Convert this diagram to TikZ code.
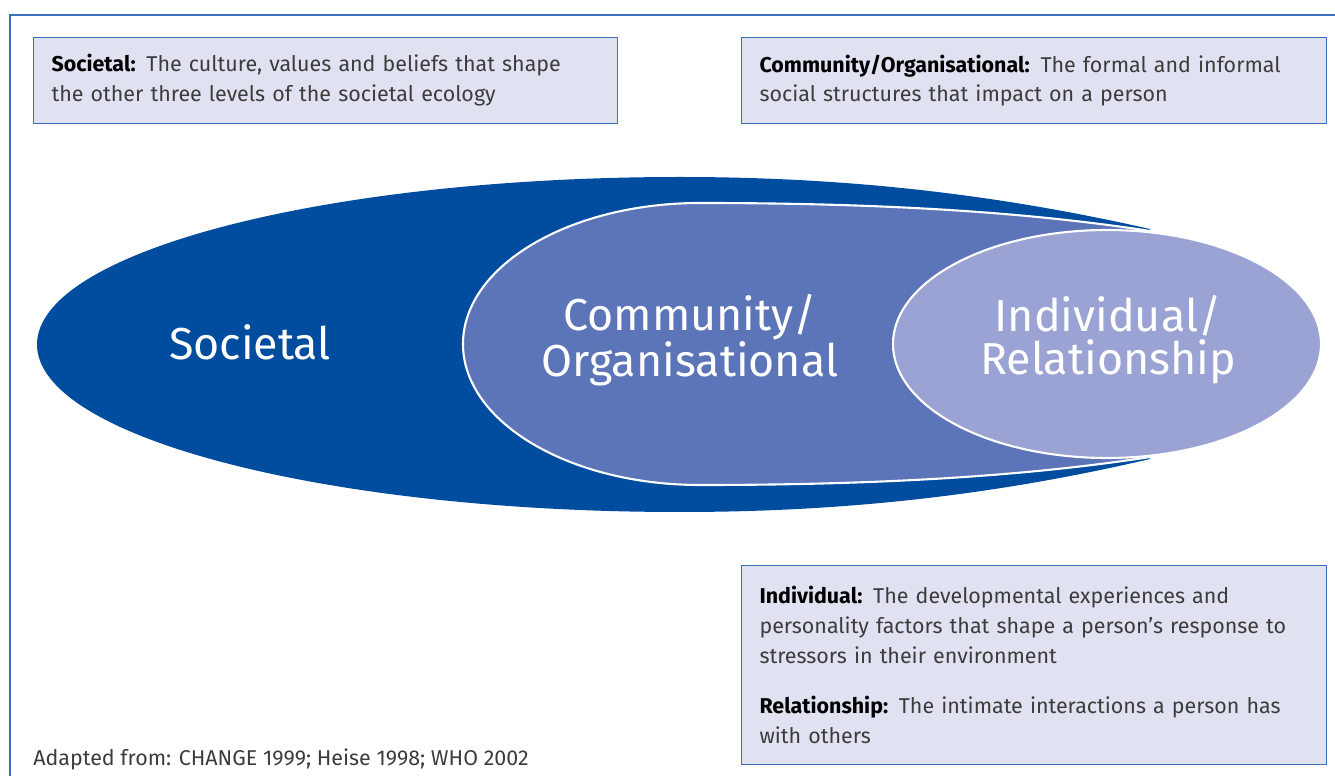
\documentclass[tikz,border=0pt]{standalone}
\usepackage{fontspec}
\setmainfont{Fira Sans}
\definecolor{societal}{RGB}{0,76,159}
\definecolor{community}{RGB}{92,116,184}
\definecolor{individual}{RGB}{154,163,211}
\definecolor{boxfill}{RGB}{224,226,241}
\definecolor{frameblue}{RGB}{58,112,190}
\definecolor{bodytext}{RGB}{60,60,60}

\begin{document}
\begin{tikzpicture}[x=0.02cm, y=-0.02cm,
  infobox/.style={draw=frameblue, line width=0.6pt, fill=boxfill, anchor=north west,
    inner xsep=0.36cm, align=left, font=\fontsize{12.2}{17}\selectfont, text=bodytext},
  ringlabel/.style={text=white, align=center, font=\fontsize{25.5}{24.5}\selectfont}]
\useasboundingbox (0,0) rectangle (1335,776);

% frame
\draw[frameblue, line width=0.6pt] (10,776) -- (10,15) -- (1335,15);

% societal shape
\fill[societal] (680,177) arc[start angle=-90, end angle=-270, x radius=643, y radius=167.5]
  .. controls (850,512) and (1000,494) .. (1150,459) -- (1150,229)
  .. controls (1000,195) and (850,177) .. (680,177) -- cycle;
% community shape
\filldraw[fill=community, draw=white, line width=1.2pt] (700,203) arc[start angle=-90, end angle=-270, x radius=237, y radius=141]
  .. controls (900,485) and (1040,474) .. (1150,457) -- (1150,231)
  .. controls (1040,214) and (900,203) .. (700,203) -- cycle;
% individual ellipse
\filldraw[fill=individual, draw=white, line width=1.2pt] (1107,344) ellipse[x radius=214, y radius=114];

\node[ringlabel] (societal) at (250,342) {Societal};
\node[ringlabel] (community) at (690,340) {Community/\\Organisational};
\node[ringlabel] (individual) at (1108,340) {Individual/\\Relationship};

% info boxes
\node[infobox, text width=10.96cm, minimum height=1.72cm] (societalbox) at (33,37)
  {\textbf{\color{black}Societal:} The culture, values and beliefs that shape\\the other three levels of the societal ecology};
\node[infobox, text width=10.98cm, minimum height=1.72cm] (communitybox) at (741,37)
  {\textbf{\color{black}Community/Organisational:} The formal and informal\\social structures that impact on a person};
\node[infobox, text width=10.98cm, minimum height=3.98cm] (individualbox) at (741,565)
  {\textbf{\color{black}Individual:} The developmental experiences and\\personality factors that shape a person’s response to\\stressors in their environment\\[0.4cm]
   \textbf{\color{black}Relationship:} The intimate interactions a person has\\with others};

\node[anchor=base west, inner sep=0pt, text=bodytext, font=\fontsize{12.2}{17}\selectfont] (source) at (33,765)
  {Adapted from: CHANGE 1999; Heise 1998; WHO 2002};
\end{tikzpicture}
\end{document}
